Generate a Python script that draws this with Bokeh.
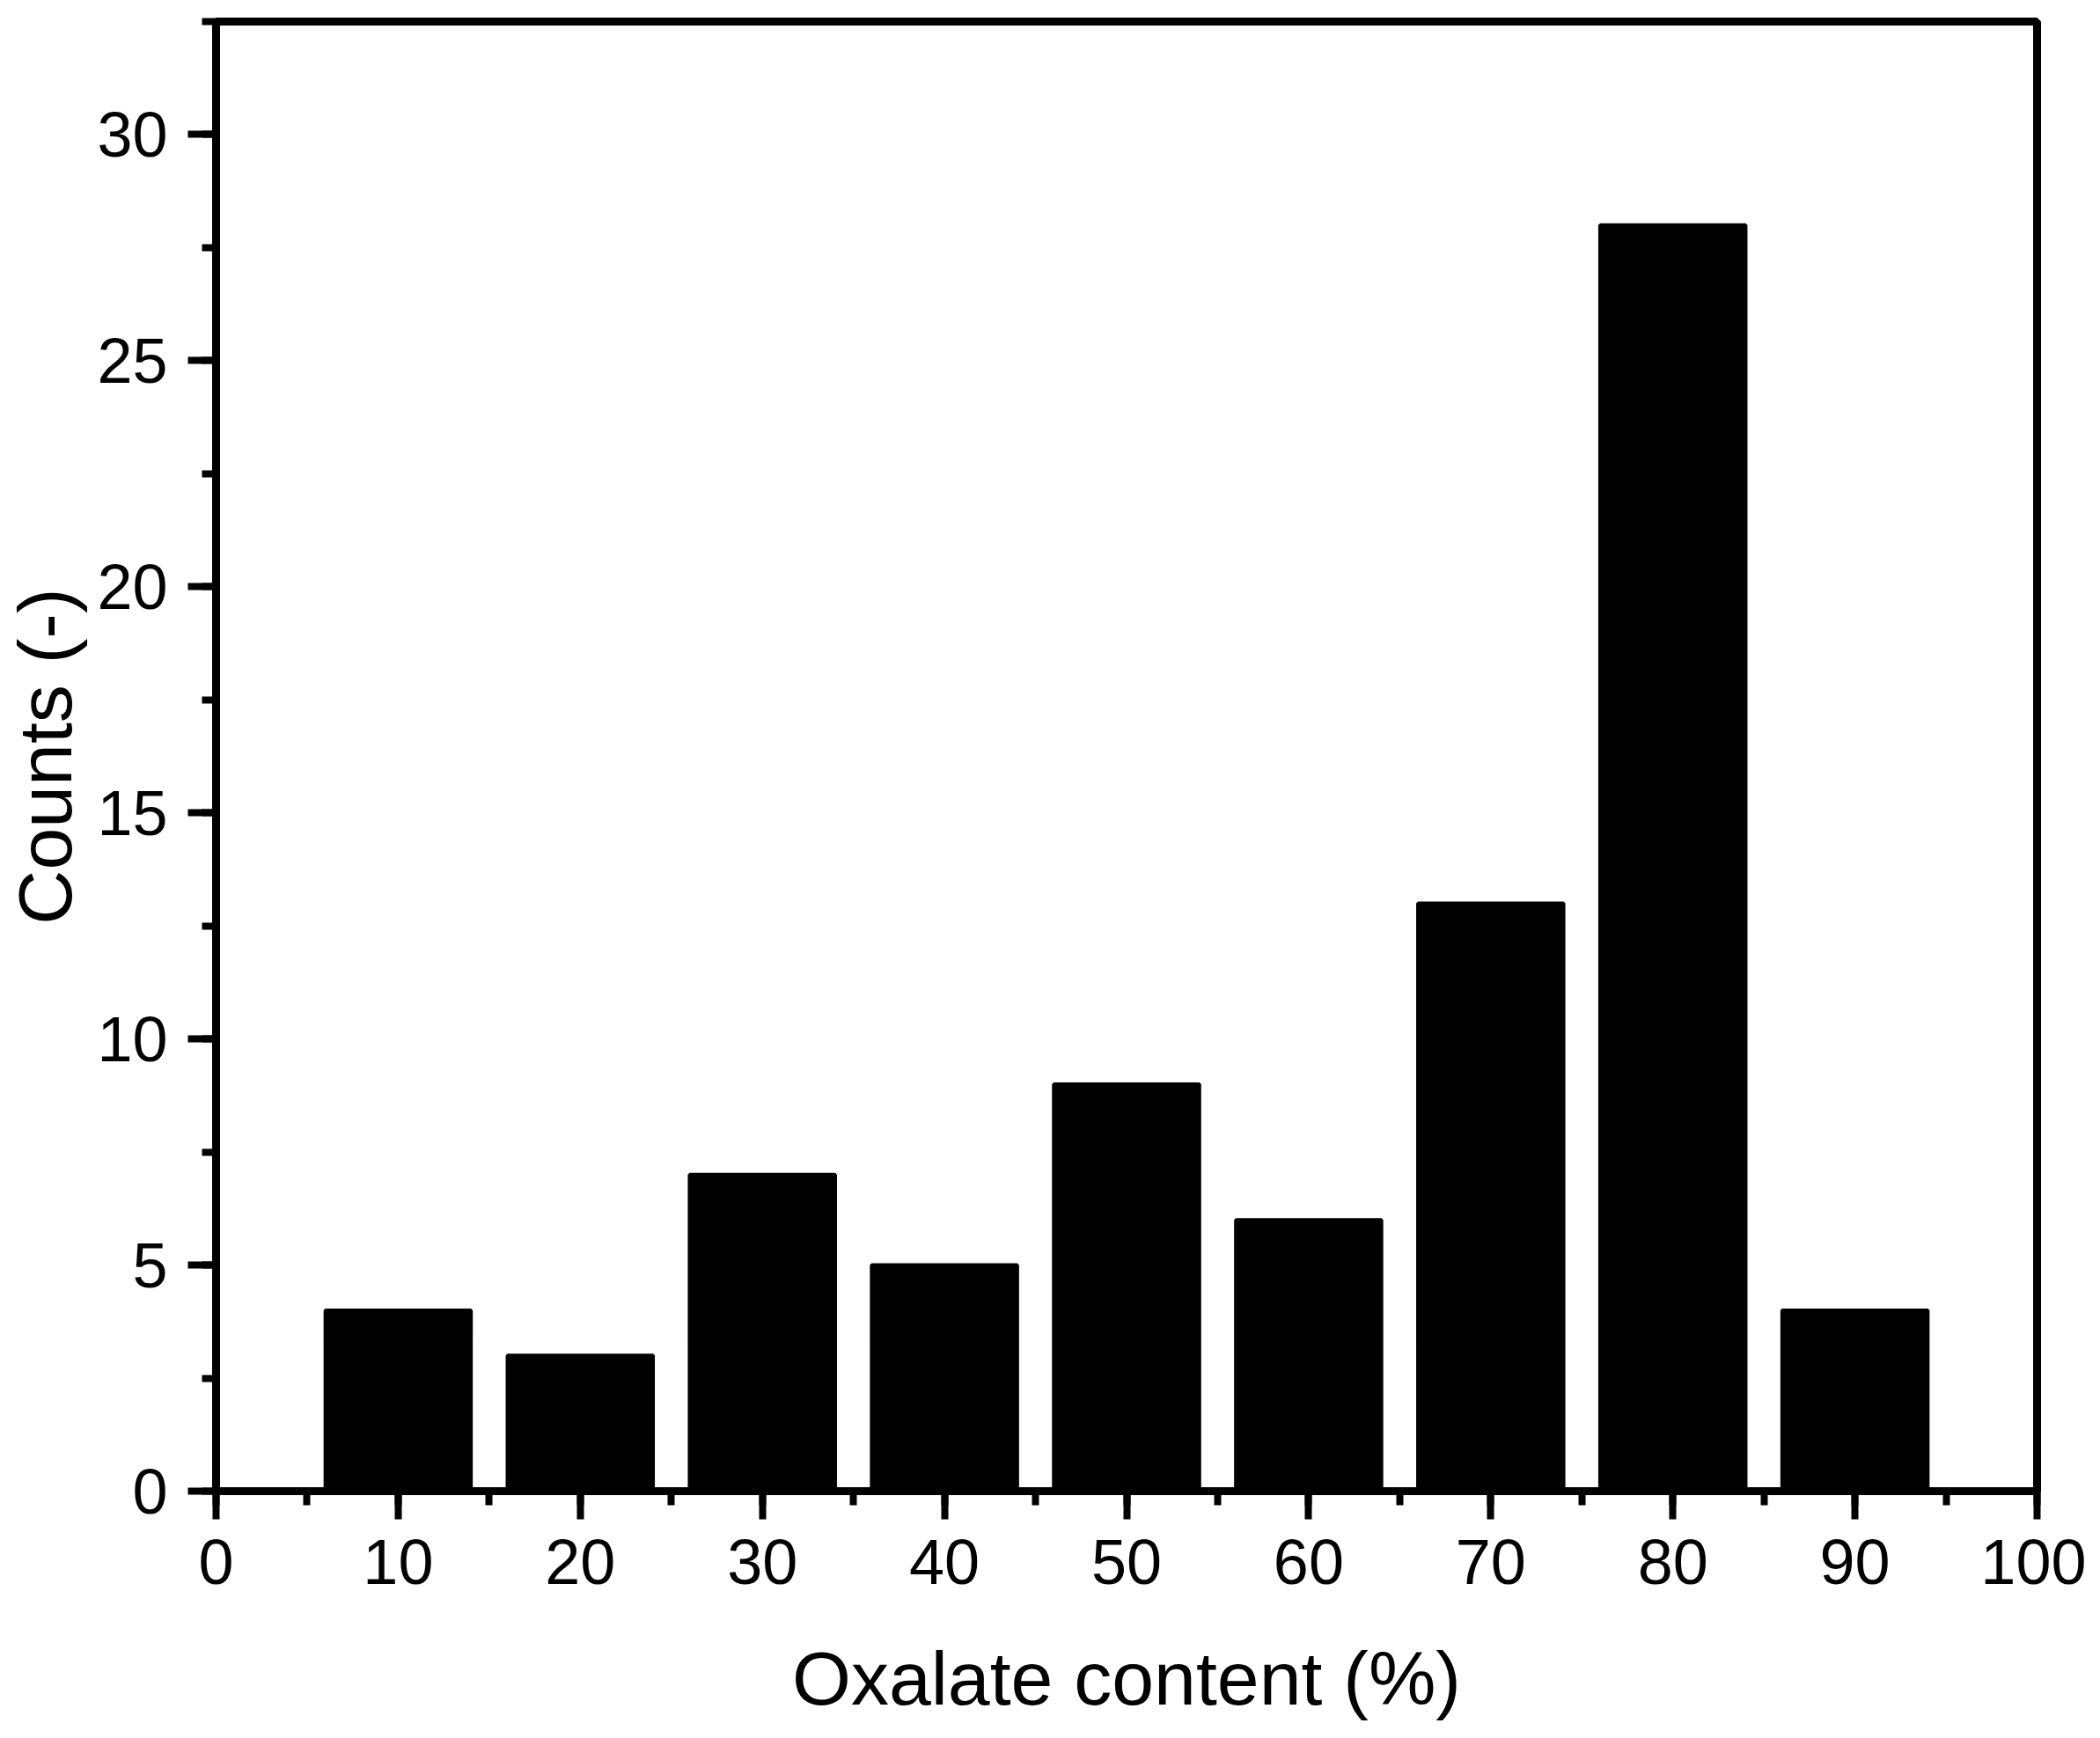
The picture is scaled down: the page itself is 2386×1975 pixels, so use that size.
from bokeh.plotting import figure
from bokeh.models import Range1d, SingleIntervalTicker
from bokeh.embed import file_html
from bokeh.resources import INLINE

# Data
bin_centers = [10, 20, 30, 40, 50, 60, 70, 80, 90]
counts = [4, 3, 7, 5, 9, 6, 13, 28, 4]
bar_width = 8

FONT = "Liberation Sans"

p = figure(width=2370, height=1966, output_backend="svg", toolbar_location=None,
           x_range=Range1d(0, 100), y_range=Range1d(0, 32.5),
           min_border_left=238, min_border_right=56, min_border_top=24, min_border_bottom=272)

p.vbar(x=bin_centers, top=counts, width=bar_width, bottom=0,
       fill_color="black", line_color="black", line_width=4)

p.grid.visible = False
p.outline_line_color = "black"
p.outline_line_width = 9
p.background_fill_color = "white"
p.border_fill_color = "white"

p.xaxis.ticker = SingleIntervalTicker(interval=10, num_minor_ticks=2)
p.yaxis.ticker = SingleIntervalTicker(interval=5, num_minor_ticks=2)

for ax in (p.xaxis[0], p.yaxis[0]):
    ax.axis_line_width = 9
    ax.axis_line_color = "black"
    ax.major_tick_line_width = 8
    ax.minor_tick_line_width = 8
    ax.major_tick_out = 32
    ax.major_tick_in = 0
    ax.minor_tick_out = 16
    ax.minor_tick_in = 0
    ax.major_label_text_font = FONT
    ax.major_label_text_font_size = "72px"
    ax.major_label_text_color = "black"
    ax.axis_label_text_font = FONT
    ax.axis_label_text_font_size = "86px"
    ax.axis_label_text_font_style = "normal"
    ax.axis_label_text_color = "black"

p.xaxis.axis_label = "Oxalate content (%)"
p.yaxis.axis_label = "Counts (-)"
p.xaxis.major_label_standoff = 23
p.yaxis.major_label_standoff = 23
p.xaxis.axis_label_standoff = 56
p.yaxis.axis_label_standoff = 8

open("out.html", "w").write(file_html(p, INLINE))
